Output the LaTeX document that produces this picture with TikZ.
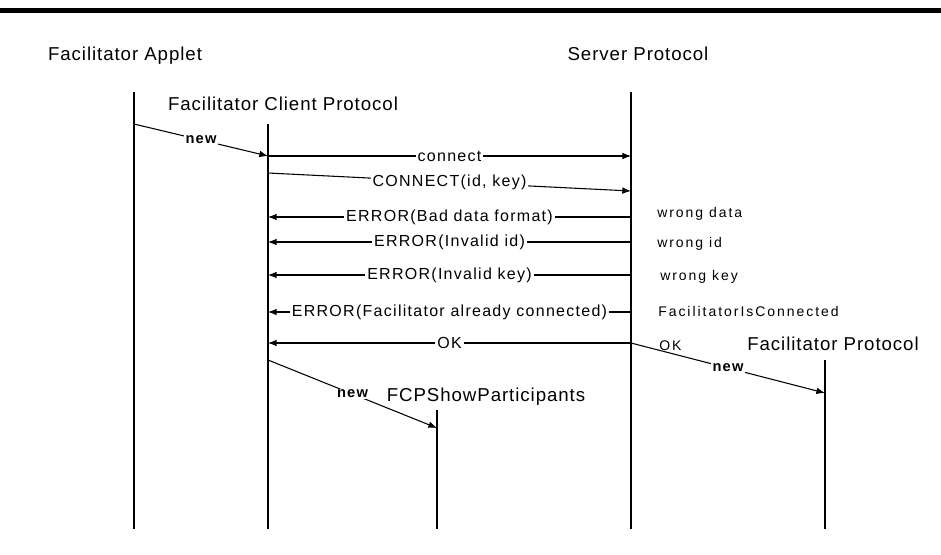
\documentclass[tikz,border=0pt]{standalone}
\usepackage{fontspec}
\setmainfont{Liberation Sans}
\newfontfamily\msgfont[LetterSpace=8]{Liberation Sans}
\newfontfamily\notefont[LetterSpace=14]{Liberation Sans}
\newfontfamily\titlefont[LetterSpace=5]{Liberation Sans}
\usetikzlibrary{arrows.meta, positioning}

\begin{document}
\begin{tikzpicture}[
  x=0.75pt, y=-0.75pt,
  lifeline/.style={draw, line width=0.9pt},
  msg/.style={draw, line width=0.8pt, -{Latex[length=6.5pt,width=5pt]}},
  title/.style={font=\titlefont\fontsize{14}{16}\selectfont, inner sep=0pt, anchor=base},
  lbl/.style={font=\msgfont\fontsize{12}{14}\selectfont, fill=white, inner sep=1.5pt, pos=0.5},
  newlbl/.style={font=\msgfont\bfseries\fontsize{11}{13}\selectfont, fill=white, inner sep=1pt},
  note/.style={font=\notefont\fontsize{10.5}{12}\selectfont, anchor=west, inner sep=0pt}
]
  \useasboundingbox (0,0) rectangle (941,554);
  \draw[line width=3.4pt] (0,10.5) -- (941,10.5);

  % participants
  \node[title] (appletT)  at (125,60)  {Facilitator Applet};
  \node[title] (serverT)  at (638,60)  {Server Protocol};
  \node[title] (clientT)  at (283,110) {Facilitator Client Protocol};
  \node[title] (showT)    at (486,401) {FCPShowParticipants};
  \node[title] (facT)     at (833,350) {Facilitator Protocol};

  \coordinate (applet) at (134,92);
  \coordinate (server) at (631,92);
  \coordinate (client) at (268,124);
  \coordinate (show)   at (437,410);
  \coordinate (fac)    at (825,360);

  \foreach \p in {applet, server, client, show, fac}
    \draw[lifeline] (\p) -- (\p |- 0,529);

  % messages
  \draw[msg] (applet |- 0,124) -- node[newlbl] {new} (client |- 0,156);
  \draw[msg] (client |- 0,156) -- node[lbl] {connect} (server |- 0,156);
  \draw[msg] (client |- 0,173) -- node[lbl] {CONNECT(id, key)} (server |- 0,191);
  \draw[msg] (server |- 0,217) -- node[lbl] {ERROR(Bad data format)} (client |- 0,217);
  \draw[msg] (server |- 0,242) -- node[lbl] {ERROR(Invalid id)} (client |- 0,242);
  \draw[msg] (server |- 0,275) -- node[lbl] {ERROR(Invalid key)} (client |- 0,275);
  \draw[msg] (server |- 0,312) -- node[lbl] {ERROR(Facilitator already connected)} (client |- 0,312);
  \draw[msg] (server |- 0,343) -- node[lbl] {OK} (client |- 0,343);
  \draw[msg] (server |- 0,343) -- node[newlbl] {new} (fac |- 0,393);
  \draw[msg] (client |- 0,360) -- node[newlbl] {new} (show |- 0,428);

  % conditions
  \node[note] (n1) at (657,214) {wrong data};
  \node[note] (n2) at (657,244) {wrong id};
  \node[note] (n3) at (660,277) {wrong key};
  \node[note] (n4) at (658,311) {FacilitatorIsConnected};
  \node[note] (n5) at (659,346) {OK};
\end{tikzpicture}
\end{document}
